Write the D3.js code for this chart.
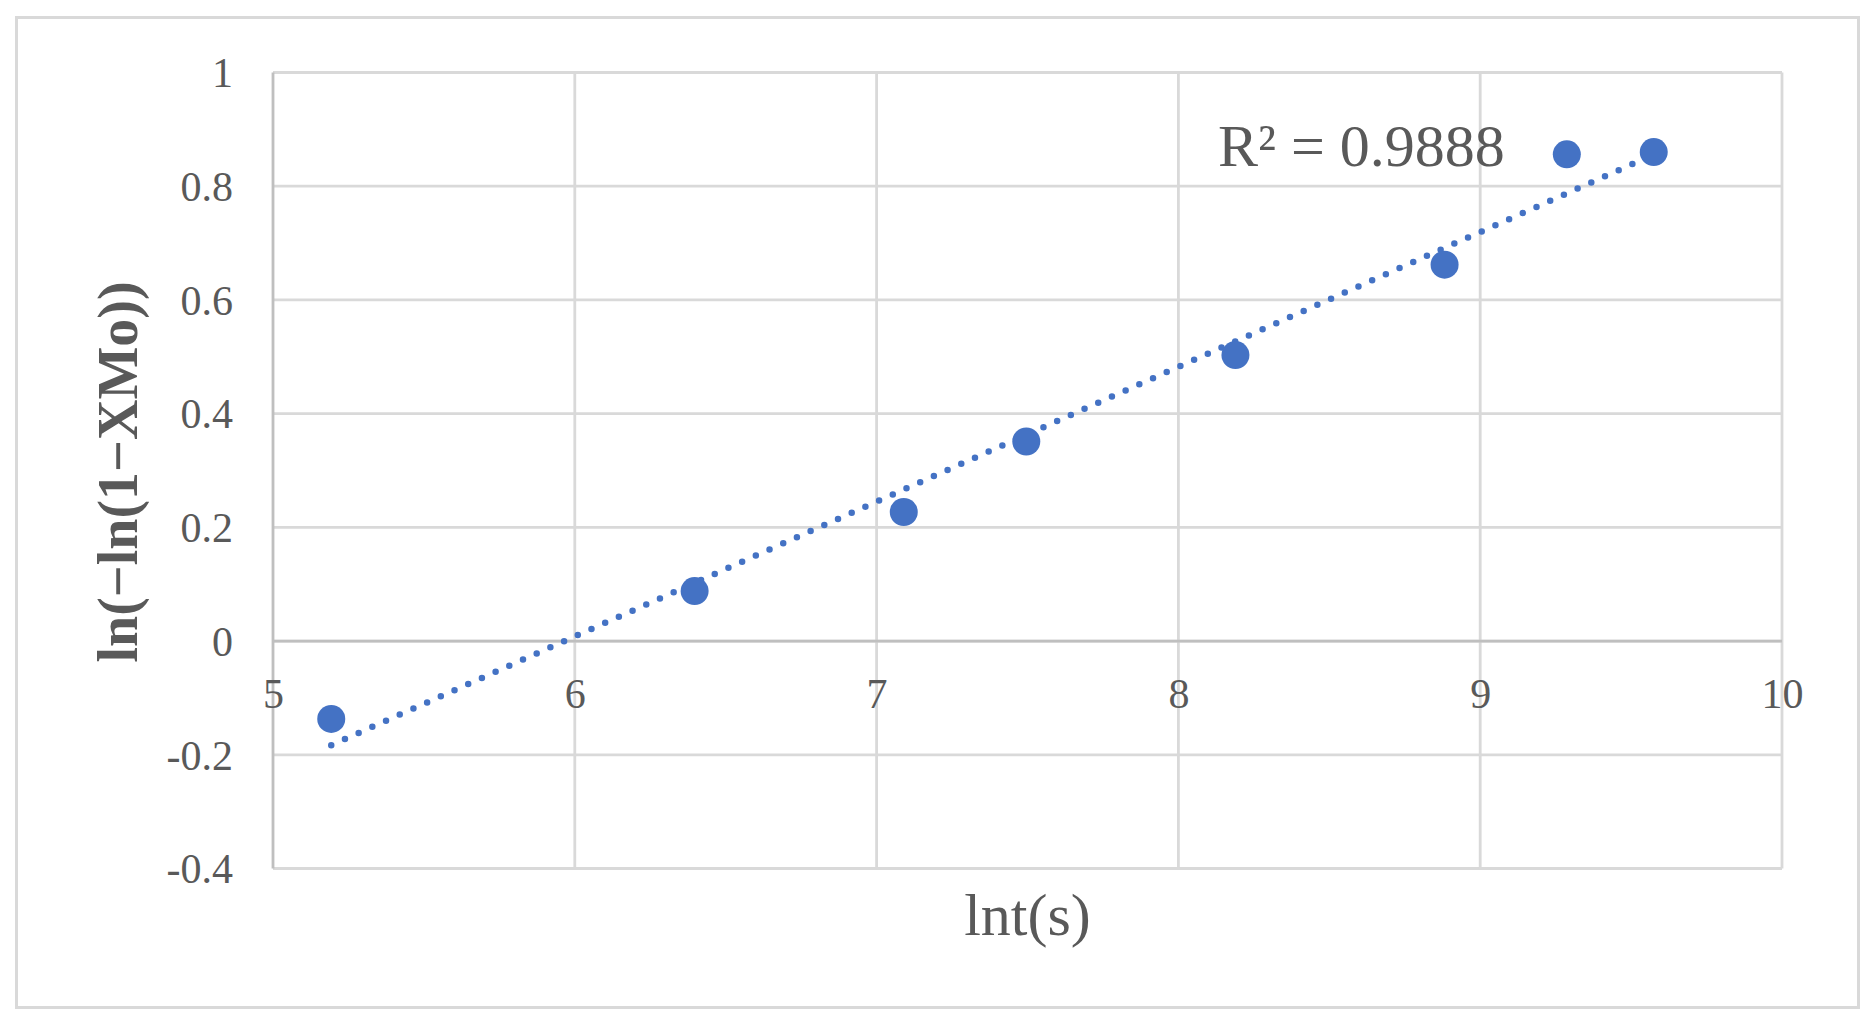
<!DOCTYPE html>
<html>
<head>
<meta charset="utf-8">
<script src="https://cdn.jsdelivr.net/npm/d3@7"></script>
<style>
  html, body { margin: 0; padding: 0; background: #ffffff; }
  svg { display: block; }
  text { font-family: "Liberation Serif", "Times New Roman", serif; fill: #595959; }
</style>
</head>
<body>
<svg id="chart" width="1876" height="1026"></svg>
<script>
// ---- data ----
const lnT = [5.193, 6.397, 7.090, 7.496, 8.189, 8.882, 9.287, 9.575];
const lnLnX = [-0.137, 0.088, 0.227, 0.351, 0.503, 0.662, 0.856, 0.860];
const xTicks = [5, 6, 7, 8, 9, 10];
const yTicks = [-0.4, -0.2, 0, 0.2, 0.4, 0.6, 0.8, 1];
const yTickLabels = ["-0.4", "-0.2", "0", "0.2", "0.4", "0.6", "0.8", "1"];
const xTitle = "lnt(s)";
const yTitle = "ln(\u2212ln(1\u2212XMo))";
const rSquaredLabel = "R\u00b2 = 0.9888";

// ---- layout ----
const W = 1876, H = 1026;
const plot = { left: 273, right: 1782, top: 72.5, bottom: 868.5 };
const svg = d3.select("#chart");

const x = d3.scaleLinear().domain([5, 10]).range([plot.left, plot.right]);
const y = d3.scaleLinear().domain([-0.4, 1]).range([plot.bottom, plot.top]);

// outer chart border
svg.append("rect")
  .attr("x", 16.5).attr("y", 17.5)
  .attr("width", 1842).attr("height", 990)
  .attr("fill", "#ffffff").attr("stroke", "#d9d9d9").attr("stroke-width", 3);

// gridlines
const g = svg.append("g");
g.selectAll("line.hgrid").data(yTicks).join("line")
  .attr("class", "hgrid")
  .attr("x1", plot.left).attr("x2", plot.right)
  .attr("y1", d => y(d)).attr("y2", d => y(d))
  .attr("stroke", "#d9d9d9")
  .attr("stroke-width", 2.8);
g.selectAll("line.vgrid").data(xTicks).join("line")
  .attr("class", "vgrid")
  .attr("x1", d => x(d)).attr("x2", d => x(d))
  .attr("y1", plot.top).attr("y2", plot.bottom)
  .attr("stroke", d => d === 5 ? "#bfbfbf" : "#d9d9d9")
  .attr("stroke-width", 2.8);
// y = 0 axis line on top
g.append("line")
  .attr("x1", plot.left).attr("x2", plot.right)
  .attr("y1", y(0)).attr("y2", y(0))
  .attr("stroke", "#bfbfbf").attr("stroke-width", 2.8);

// y tick labels
const yAxis = d3.axisLeft(y).tickValues(yTicks).tickSize(0).tickPadding(0)
  .tickFormat((d, i) => yTickLabels[i]);
const yAx = svg.append("g").attr("transform", `translate(${233},0)`).call(yAxis);
yAx.select(".domain").remove();
yAx.selectAll("text")
  .attr("font-family", "Liberation Serif, Times New Roman, serif")
  .attr("font-size", 42).attr("fill", "#595959")
  .attr("dy", "0.34em");

// x tick labels (at y = 0 crossing)
const xAxis = d3.axisBottom(x).tickValues(xTicks).tickSize(0).tickPadding(0)
  .tickFormat(d3.format("d"));
const xAx = svg.append("g").attr("transform", `translate(0,${y(0)})`).call(xAxis);
xAx.select(".domain").remove();
xAx.selectAll("text")
  .attr("font-family", "Liberation Serif, Times New Roman, serif")
  .attr("font-size", 42).attr("fill", "#595959")
  .attr("dy", null).attr("y", 67);

// linear trendline (least squares from the data)
const n = lnT.length;
const mx = d3.mean(lnT), my = d3.mean(lnLnX);
let sxy = 0, sxx = 0;
for (let i = 0; i < n; i++) { sxy += (lnT[i] - mx) * (lnLnX[i] - my); sxx += (lnT[i] - mx) ** 2; }
const slope = sxy / sxx, intercept = my - slope * mx;
const x0 = d3.min(lnT), x1 = d3.max(lnT);
svg.append("line")
  .attr("x1", x(x0)).attr("y1", y(slope * x0 + intercept))
  .attr("x2", x(x1)).attr("y2", y(slope * x1 + intercept))
  .attr("stroke", "#4472c4").attr("stroke-width", 6.5)
  .attr("stroke-linecap", "round").attr("stroke-dasharray", "0 15");

// points
svg.append("g").selectAll("circle").data(lnT.map((d, i) => [d, lnLnX[i]])).join("circle")
  .attr("cx", d => x(d[0])).attr("cy", d => y(d[1]))
  .attr("r", 14).attr("fill", "#4472c4");

// R² label
svg.append("text")
  .attr("x", 1218).attr("y", 166)
  .attr("font-size", 60)
  .text(rSquaredLabel);

// axis titles
svg.append("text")
  .attr("x", (plot.left + plot.right) / 2).attr("y", 935)
  .attr("text-anchor", "middle")
  .attr("font-size", 60)
  .text(xTitle);

svg.append("text")
  .attr("transform", `translate(137,${472}) rotate(-90)`)
  .attr("text-anchor", "middle")
  .attr("font-size", 56)
  .attr("font-weight", "bold")
  .text(yTitle);
</script>
</body>
</html>
